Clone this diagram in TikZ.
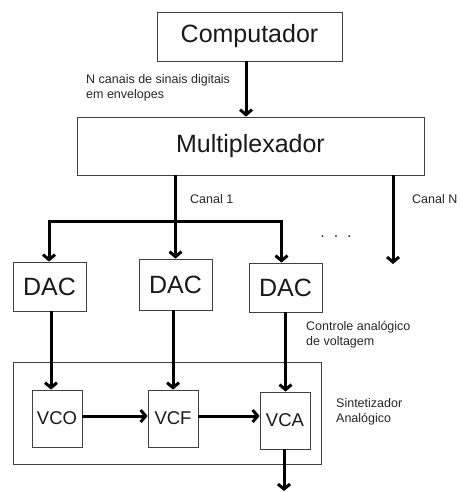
\documentclass[tikz,border=0pt]{standalone}
\usepackage{fontspec}
\setmainfont{Liberation Sans}
\usetikzlibrary{arrows.meta}
\begin{document}
\begin{tikzpicture}[x=1pt,y=-1pt,
  box/.style={draw=black!75,line width=0.8pt,inner sep=0pt,text=black!90},
  bigbox/.style={box,font=\fontsize{25}{27}\selectfont},
  smbox/.style={box,minimum width=50pt,minimum height=57pt,font=\fontsize{18.5}{21}\selectfont},
  lbl/.style={inner sep=0pt,font=\fontsize{12.5}{15}\selectfont,text=black!85,align=left},
  arr/.style={line width=3pt,-{Straight Barb[length=5pt,width=12pt]}}]
\useasboundingbox (0,0) rectangle (461,492);
\node[bigbox,minimum width=185pt,minimum height=49pt] (comp) at (249.5,36.5) {Computador};
\node[bigbox,minimum width=347pt,minimum height=58pt] (mux) at (250.5,146) {Multiplexador};
\node[bigbox,minimum width=73pt,minimum height=49pt] (dac1) at (49.5,286.5) {DAC};
\node[bigbox,minimum width=73pt,minimum height=51pt] (dac2) at (175.5,284.5) {DAC};
\node[bigbox,minimum width=73pt,minimum height=49pt] (dac3) at (285.5,287.5) {DAC};
\node[box,minimum width=308pt,minimum height=102pt] (synth) at (167,413) {};
\node[smbox] (vco) at (57,418.5) {VCO};
\node[smbox] (vcf) at (173,418.5) {VCF};
\node[smbox] (vca) at (285,420.5) {VCA};
% labels
\node[lbl,anchor=north west] (lenv) at (86,74) {N canais de sinais digitais\\em envelopes};
\node[lbl,anchor=west] (lc1) at (190,199) {Canal 1};
\node[lbl,anchor=west] (lcn) at (412,199) {Canal N};
\node[lbl,anchor=center,font=\fontsize{16}{16}\selectfont] (dots) at (336,237) {.\hspace{9pt}.\hspace{9pt}.};
\node[lbl,anchor=north west] (lctl) at (306,321) {Controle analógico\\de voltagem};
\node[lbl,anchor=north west] (lsyn) at (336,398) {Sintetizador\\Analógico};
% connectors
\coordinate (br) at (175.5,221);
\coordinate (cn) at (393,264);
\coordinate (out) at (284,491);
\draw[arr] ([xshift=-3.5pt]comp.south) -- ([xshift=-3.5pt]comp.south |- mux.north);
\draw[arr] (mux.south -| dac2.north) -- (dac2.north);
\draw[arr] (br) -| ([xshift=-0.5pt]dac1.north);
\draw[arr] (br) -| ([xshift=-4pt]dac3.north);
\draw[arr] (mux.south -| cn) -- (cn);
\draw[arr] ([xshift=1.5pt]dac1.south) -- ([xshift=1.5pt]dac1.south |- vco.north);
\draw[arr] (vcf.north |- dac2.south) -- (vcf.north);
\draw[arr] (dac3.south) -- (dac3.south |- vca.north);
\draw[arr] ([yshift=2.5pt]vco.east) -- ([yshift=2.5pt]vcf.west);
\draw[arr] ([yshift=2.5pt]vcf.east) -- ([yshift=2.5pt]vcf.east -| vca.west);
\draw[arr] ([xshift=-1pt]vca.south) -- (out);
\end{tikzpicture}
\end{document}
